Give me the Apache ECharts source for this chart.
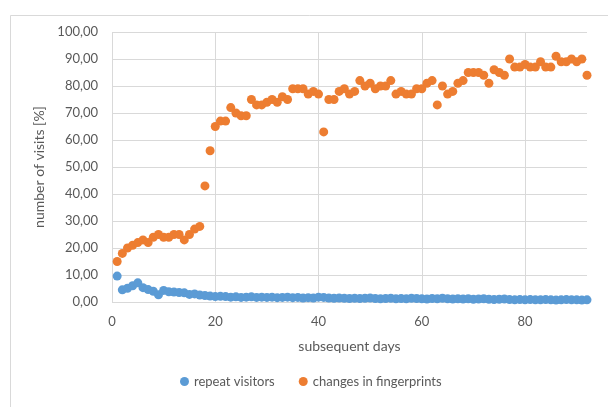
<!DOCTYPE html>
<html>
<head>
<meta charset="utf-8">
<script src="https://cdn.jsdelivr.net/npm/echarts@6/dist/echarts.min.js"></script>
<style>html,body{margin:0;padding:0;background:#fff}#c{width:608px;height:407px}</style>
</head>
<body>
<div id="c"></div>
<script>
const days = Array.from({length: 92}, (_, i) => i + 1);
const repeatVisitors = [
  9.6, 4.5, 5.1, 6.0, 7.1, 5.3, 4.6, 4.0, 2.7, 4.3,
  3.8, 3.7, 3.5, 3.4, 2.8, 3.0, 2.6, 2.4, 2.2, 2.0,
  2.1, 2.0, 1.8, 1.9, 1.7, 1.8, 1.9, 1.7, 1.8, 1.7,
  1.8, 1.6, 1.7, 1.8, 1.6, 1.7, 1.5, 1.6, 1.5, 1.8,
  1.7, 1.5, 1.4, 1.5, 1.4, 1.3, 1.4, 1.3, 1.4, 1.5,
  1.3, 1.2, 1.3, 1.4, 1.2, 1.3, 1.2, 1.4, 1.3, 1.2,
  1.1, 1.3, 1.2, 1.4, 1.2, 1.1, 1.2, 1.1, 1.2, 1.0,
  1.1, 1.2, 1.0, 0.9, 1.0, 1.1, 0.9, 0.8, 0.9, 0.8,
  0.9, 0.8, 0.8, 0.9, 0.8, 0.7, 0.8, 0.9, 0.8, 0.8,
  0.7, 0.8
];
const fingerprintChanges = [
  15, 18, 20, 21, 22, 23, 22, 24, 25, 24,
  24, 25, 25, 23, 25, 27, 28, 43, 56, 65,
  67, 67, 72, 70, 69, 69, 75, 73, 73, 74,
  75, 74, 76, 75, 79, 79, 79, 77, 78, 77,
  63, 75, 75, 78, 79, 77, 78, 82, 80, 81,
  79, 80, 80, 82, 77, 78, 77, 77, 79, 79,
  81, 82, 73, 80, 77, 78, 81, 82, 85, 85,
  85, 84, 81, 86, 85, 84, 90, 87, 87, 88,
  87, 87, 89, 87, 87, 91, 89, 89, 90, 89,
  90, 84
];
const seriesNames = ['repeat visitors', 'changes in fingerprints'];
const xTitle = 'subsequent days';
const yTitle = 'number of visits [%]';

const font = 'Lato, "Open Sans", sans-serif';
const txt = '#595959';
const chart = echarts.init(document.getElementById('c'));
chart.setOption({
  animation: false,
  backgroundColor: '#fff',
  graphic: [{
    type: 'rect', left: 8, top: 13, z: -1,
    shape: {width: 640, height: 440},
    style: {fill: 'none', stroke: '#d9d9d9', lineWidth: 1}
  }],
  grid: {left: 112, right: 21, top: 32, bottom: 105},
  legend: {
    bottom: 14, left: 175,
    itemWidth: 9, itemHeight: 9, itemGap: 24,
    icon: 'circle',
    textStyle: {fontFamily: font, fontSize: 13, color: txt},
    data: seriesNames
  },
  xAxis: {
    type: 'value', min: 0, max: 92, interval: 20,
    name: xTitle, nameLocation: 'middle', nameGap: 37,
    nameTextStyle: {fontFamily: font, fontSize: 14, color: txt},
    axisLine: {show: false}, axisTick: {show: false},
    axisLabel: {fontFamily: font, fontSize: 13, color: txt, margin: 13, showMaxLabel: false},
    splitLine: {show: true, showMaxLine: false, lineStyle: {color: '#d9d9d9', width: 1}}
  },
  yAxis: {
    type: 'value', min: 0, max: 100, interval: 10,
    name: yTitle, nameLocation: 'middle', nameGap: 64,
    nameTextStyle: {fontFamily: font, fontSize: 14, color: txt},
    axisLine: {show: false}, axisTick: {show: false},
    axisLabel: {fontFamily: font, fontSize: 13, color: txt, margin: 14,
      formatter: v => v.toFixed(2).replace('.', ',')},
    splitLine: {show: true, lineStyle: {color: '#d9d9d9', width: 1}}
  },
  series: [
    {name: seriesNames[0], type: 'scatter', symbolSize: 9,
     itemStyle: {color: '#5b9bd5', opacity: 1},
     data: days.map((d, i) => [d, repeatVisitors[i]])},
    {name: seriesNames[1], type: 'scatter', symbolSize: 9,
     itemStyle: {color: '#ed7d31', opacity: 1},
     data: days.map((d, i) => [d, fingerprintChanges[i]])}
  ]
});
</script>
</body>
</html>
